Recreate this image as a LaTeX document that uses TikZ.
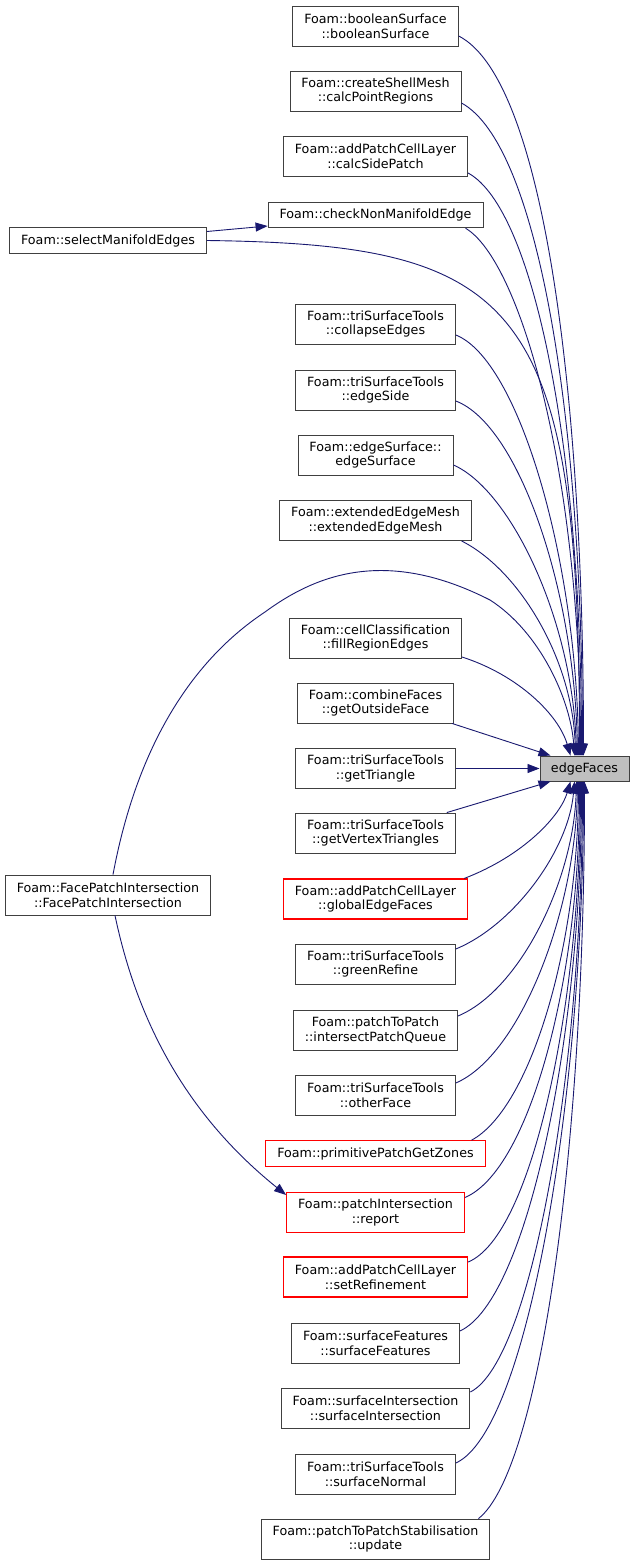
\documentclass[tikz,border=0pt]{standalone}
\usepackage{fontspec}
\setmainfont{DejaVu Sans}
\usetikzlibrary{arrows.meta}
\definecolor{doxyEdge}{RGB}{25,25,112}
\definecolor{doxyBorder}{RGB}{64,64,64}
\definecolor{doxyRed}{RGB}{255,0,0}
\definecolor{doxyFill}{RGB}{191,191,191}
\newcommand\fnfont{\fontsize{12.7pt}{14.7pt}\selectfont}

\begin{document}
\begin{tikzpicture}[
  x=1pt, y=-1pt,
  % ── function boxes ──
  fnbox/.style={draw=doxyBorder, fill=white, line width=0.9pt, font=\fnfont,
                align=center, inner xsep=11.5pt, inner ysep=0pt,
                minimum height=40pt},
  fnone/.style={fnbox, minimum height=25.5pt},
  fnred/.style={fnbox, draw=doxyRed, line width=1.1pt},
  fnredone/.style={fnone, draw=doxyRed, line width=1.1pt},
  fncur/.style={fnbox, fill=doxyFill, minimum height=25pt, inner xsep=11pt},
  % ── call edges ──
  call/.style={draw=doxyEdge, line width=0.9pt,
               -{Triangle[length=12pt,width=9pt]}},
]

%% ─── frame ──────────────────────────────────────────────────────
\path[fill=white, use as bounding box] (0,0) rectangle (636,1565);

% callers column x
\def\cx{375.5}

%% ─── 1. Caller boxes ───────────────────────────────────────────
\node[fnbox] (boolSurf)  at (\cx,26)     {Foam::booleanSurface\\::booleanSurface};
\node[fnbox] (calcPtReg) at (\cx,91)     {Foam::createShellMesh\\::calcPointRegions};
\node[fnbox] (calcSide)  at (\cx,156)    {Foam::addPatchCellLayer\\::calcSidePatch};
\node[fnone] (checkNM)   at (\cx,215)    {Foam::checkNonManifoldEdge};
\node[fnbox] (collapse)  at (\cx,324)    {Foam::triSurfaceTools\\::collapseEdges};
\node[fnbox] (edgeSide)  at (\cx,390)    {Foam::triSurfaceTools\\::edgeSide};
\node[fnbox] (edgeSurf)  at (\cx,455)    {Foam::edgeSurface::\\edgeSurface};
\node[fnbox] (extMesh)   at (\cx,520.5)  {Foam::extendedEdgeMesh\\::extendedEdgeMesh};
\node[fnbox] (fillReg)   at (\cx,638)    {Foam::cellClassification\\::fillRegionEdges};
\node[fnbox] (getOut)    at (\cx,703)    {Foam::combineFaces\\::getOutsideFace};
\node[fnbox] (getTri)    at (\cx,768.5)  {Foam::triSurfaceTools\\::getTriangle};
\node[fnbox] (getVtx)    at (\cx,833)    {Foam::triSurfaceTools\\::getVertexTriangles};
\node[fnred] (globEF)    at (\cx,899)    {Foam::addPatchCellLayer\\::globalEdgeFaces};
\node[fnbox] (green)     at (\cx,964)    {Foam::triSurfaceTools\\::greenRefine};
\node[fnbox] (isectPQ)   at (\cx,1030)   {Foam::patchToPatch\\::intersectPatchQueue};
\node[fnbox] (otherF)    at (\cx,1095)   {Foam::triSurfaceTools\\::otherFace};
\node[fnredone] (primGZ) at (\cx,1153.5) {Foam::primitivePatchGetZones};
\node[fnred] (report)    at (\cx,1212.5) {Foam::patchIntersection\\::report};
\node[fnred] (setRef)    at (\cx,1277)   {Foam::addPatchCellLayer\\::setRefinement};
\node[fnbox] (surfFeat)  at (\cx,1343)   {Foam::surfaceFeatures\\::surfaceFeatures};
\node[fnbox] (surfIsect) at (\cx,1408)   {Foam::surfaceIntersection\\::surfaceIntersection};
\node[fnbox] (surfNorm)  at (\cx,1474)   {Foam::triSurfaceTools\\::surfaceNormal};
\node[fnbox] (update)    at (\cx,1539)   {Foam::patchToPatchStabilisation\\::update};

% second-level callers on the left
\node[fnone] (selMan) at (108,240.5) {Foam::selectManifoldEdges};
\node[fnbox] (facePI) at (108,895)   {Foam::FacePatchIntersection\\::FacePatchIntersection};

%% ─── 2. The function itself ────────────────────────────────────
\node[fncur] (ef) at (584.5,768.5) {edgeFaces};

%% ─── 3. Calls entering edgeFaces from above ────────────────────
\draw[call] ([yshift=-10pt]boolSurf.east) .. controls +(86,44) and +(0,-356) .. ([xshift=-1pt]ef.north);
\draw[call] ([yshift=-12pt]calcPtReg.east) .. controls +(77,42) and +(0,-336) .. ([xshift=-2pt]ef.north);
\draw[call] ([yshift=-17pt]calcSide.east) .. controls +(66,36) and +(0,-306) .. ([xshift=-3pt]ef.north);
\draw[call] ([xshift=90pt]checkNM.south) .. controls +(54,32) and +(0,-286) .. ([xshift=-4pt]ef.north);
\draw[call] (selMan.east) .. controls +(311,4) and +(0,-456) .. ([xshift=-5pt]ef.north);
\draw[call] ([yshift=-11pt]collapse.east) .. controls +(63,25) and +(-2,-196) .. ([xshift=-6pt]ef.north);
\draw[call] ([yshift=-11pt]edgeSide.east) .. controls +(63,24) and +(-3,-166) .. ([xshift=-7pt]ef.north);
\draw[call] ([yshift=-10pt]edgeSurf.east) .. controls +(57,25) and +(-4,-136) .. ([xshift=-8pt]ef.north);
\draw[call] ([xshift=86pt]extMesh.south) .. controls +(58,29) and +(-3,-96) .. ([xshift=-9pt]ef.north);
\draw[call] ([yshift=-19pt]fillReg.east) .. controls +(56,18) and +(-12,-41) .. ([xshift=-14pt]ef.north);

% long arc from FacePatchIntersection over the middle boxes
\coordinate (arcL) at (265,612);
\coordinate (arcR) at (490,600);
\draw[call] ([xshift=5pt]facePI.north) .. controls +(22,-118) and (185,665) .. (arcL)
            .. controls (318,573) and (388,548) .. (arcR)
            .. controls (540,632) and +(-4,-56) .. ([xshift=-10pt]ef.north);

%% ─── 4. Short calls from the side ──────────────────────────────
\draw[call] ([xshift=-2pt]getOut.south east) -- ([xshift=11pt]ef.north west);
\draw[call] (getTri.east) -- (ef.west);
\draw[call] ([xshift=-9pt]getVtx.north east) -- ([xshift=11pt]ef.south west);

%% ─── 5. Calls entering edgeFaces from below ────────────────────
\draw[call] ([xshift=-4pt]globEF.north east) .. controls +(60,-23) and +(-10,34) .. ([xshift=-14pt]ef.south);
\draw[call] ([yshift=15pt]green.east) .. controls +(58,-24) and +(-6,69) .. ([xshift=-10pt]ef.south);
\draw[call] ([yshift=14pt]isectPQ.east) .. controls +(62,-26) and +(-3,99) .. ([xshift=-8pt]ef.south);
\draw[call] ([yshift=12pt]otherF.east) .. controls +(65,-28) and +(-2,129) .. ([xshift=-7pt]ef.south);
\draw[call] ([xshift=96pt]primGZ.north) .. controls +(58,-31) and +(-1,169) .. ([xshift=-6pt]ef.south);
\draw[call] ([yshift=15pt]report.east) .. controls +(64,-27) and +(0,201) .. ([xshift=-5pt]ef.south);
\draw[call] ([yshift=15pt]setRef.east) .. controls +(65,-27) and +(0,219) .. ([xshift=-4pt]ef.south);
\draw[call] ([yshift=12pt]surfFeat.east) .. controls +(68,-31) and +(0,251) .. ([xshift=-3pt]ef.south);
\draw[call] ([yshift=16pt]surfIsect.east) .. controls +(63,-32) and +(0,279) .. ([xshift=-2pt]ef.south);
\draw[call] ([yshift=11pt]surfNorm.east) .. controls +(73,-33) and +(0,309) .. ([xshift=-1pt]ef.south);
\draw[call] ([xshift=103pt]update.north) .. controls +(61,-48) and +(0,369) .. (ef.south);

%% ─── 6. Calls between callers ──────────────────────────────────
\draw[call] ([yshift=9pt]selMan.east) -- ([yshift=-11pt]checkNM.west);
\draw[call] ([xshift=7pt]facePI.south) .. controls +(20,95) and +(-107,-86) .. ([yshift=-3pt]report.north west);

\end{tikzpicture}
\end{document}
